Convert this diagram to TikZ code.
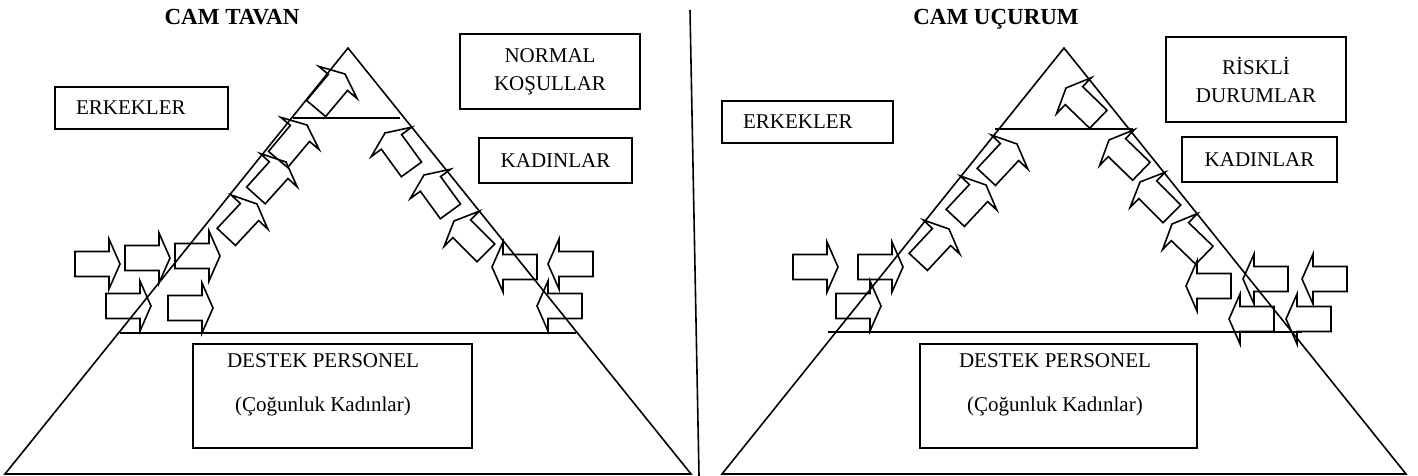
\documentclass[tikz,border=0pt]{standalone}
\usepackage{fontspec}
\setmainfont{Liberation Serif}
\begin{document}
\begin{tikzpicture}[x=0.5pt, y=-0.5pt,
  box/.style={draw, line width=0.9pt, inner sep=0pt, align=center, font=\fontsize{10.5}{12.6}\selectfont},
  lbox/.style={box, align=left, inner xsep=10.5pt},
  title/.style={anchor=base, font=\fontsize{11.5}{13}\selectfont\bfseries},
  edge/.style={line width=0.8pt},
  blockarrow/.style={line width=0.8pt, line join=miter}]
\useasboundingbox (0,0) rectangle (1418,476);
% titles
\node[title] (camtavan) at (232,25) {CAM TAVAN};
\node[title] (camucurum) at (996,25) {CAM UÇURUM};
% divider
\draw[edge] (690,10) -- (699,476);
% left pyramid
\coordinate (apexL) at (348,48);
\coordinate (baseLl) at (5,474);
\coordinate (baseLr) at (691,474);
\draw[edge] (apexL) -- (baseLl) -- (baseLr) -- cycle;
\draw[edge] (293,118) -- (400,118);
\draw[edge] (120,333) -- (576,333);
% right pyramid
\coordinate (apexR) at (1064,48);
\coordinate (baseRl) at (722,474);
\coordinate (baseRr) at (1406,474);
\draw[edge] (apexR) -- (baseRl) -- (baseRr) -- cycle;
\draw[edge] (995,129) -- (1133,129);
\draw[edge] (828,332) -- (1302,332);
% boxes, left
\node[lbox, minimum height=21pt, text width=65.5pt] (erkL) at (141.5,108) {ERKEKLER};
\node[box, minimum width=90pt, minimum height=37.5pt] (normalL) at (550,71.5) {NORMAL\\[1.4pt]KOŞULLAR};
\node[box, minimum width=76.5pt, minimum height=22.5pt] (kadL) at (555.5,160.5) {KADINLAR};
\node[box, minimum width=139.5pt, minimum height=52pt] (destL) at (332.5,396) {};
\node[align=center, font=\fontsize{10.5}{12.6}\selectfont] (destLtext) at (323,385) {DESTEK PERSONEL\\[9.4pt](Çoğunluk Kadınlar)};
% boxes, right
\node[lbox, minimum height=21pt, text width=64.5pt] (erkR) at (807.5,122) {ERKEKLER};
\node[box, minimum width=90pt, minimum height=42.5pt] (riskR) at (1256,79.5) {RİSKLİ\\[1.4pt]DURUMLAR};
\node[box, minimum width=77.5pt, minimum height=22.5pt] (kadR) at (1259.5,159.5) {KADINLAR};
\node[box, minimum width=138.5pt, minimum height=52pt] (destR) at (1058.5,396) {};
\node[align=center, font=\fontsize{10.5}{12.6}\selectfont] (destRtext) at (1055,385) {DESTEK PERSONEL\\[9.4pt](Çoğunluk Kadınlar)};
% arrows: tip x / tip y / angle
\foreach \x/\y/\a in {120/264/0, 170/258/0, 220/256/0, 151/306/0, 213/308/0,
    345/74/50, 307/125/50, 286/162/48, 257/204/47,
    385/133/126, 424/175/126, 454/221/135,
    492/267/180, 548/264/180, 537/306/180,
    838/267/0, 903/267/0, 881/306/0,
    1017/144/47, 986/185/47, 949/229/47,
    1066/88/136, 1109/140/136, 1140/182/135, 1172/224/136,
    1186/286/180, 1243/279/180, 1302/279/180, 1229/319/180, 1286/319/180}
  \draw[blockarrow, shift={(\x,\y)}, rotate=\a] (0,0) -- (-11,25) -- (-11,12.5) -- (-45,12.5)
    -- (-45,-12.5) -- (-11,-12.5) -- (-11,-25) -- cycle;
\end{tikzpicture}
\end{document}
